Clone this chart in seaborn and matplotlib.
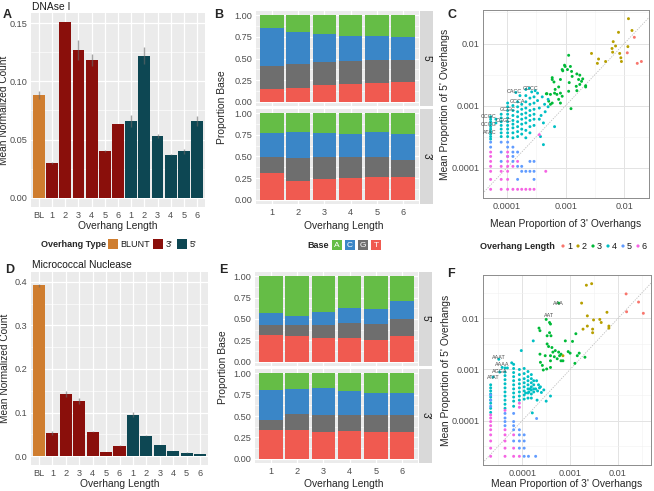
import numpy as np
import pandas as pd
import matplotlib
matplotlib.use("Agg")
import matplotlib.pyplot as plt
import matplotlib.ticker as mticker
from matplotlib.patches import Rectangle, Circle
import seaborn as sns

# ---------------------------------------------------------------- data
BAR_LABELS = ["BL", "1", "2", "3", "4", "5", "6", "1", "2", "3", "4", "5", "6"]
BAR_TYPES = ["BLUNT"] + ["3'"] * 6 + ["5'"] * 6
DNASE_MEAN = [0.088, 0.030, 0.151, 0.127, 0.118, 0.040, 0.063, 0.066, 0.122, 0.053, 0.037, 0.040, 0.066]
DNASE_ERR = [0.0035, 0.0008, 0.0, 0.0086, 0.005, 0.0007, 0.0, 0.0054, 0.0071, 0.0014, 0.0005, 0.0021, 0.0043]
MNASE_MEAN = [0.392, 0.053, 0.143, 0.126, 0.056, 0.009, 0.024, 0.095, 0.047, 0.026, 0.011, 0.008, 0.005]
MNASE_ERR = [0.004, 0.0056, 0.0075, 0.0075, 0.0015, 0.0005, 0.0005, 0.0064, 0.0012, 0.0005, 0.0003, 0.0003, 0.0003]
TYPE_COLORS = {"BLUNT": "#CF7D2F", "3'": "#8A0F0B", "5'": "#0D4753"}

LENGTHS = [1, 2, 3, 4, 5, 6]
BASES = ["A", "C", "G", "T"]
BASE_COLORS = {"A": "#65BD46", "C": "#3A86C7", "G": "#6E6E6E", "T": "#F05A50"}

# base proportions per overhang length (1..6)
DNASE_5P_A = [0.15, 0.19, 0.22, 0.24, 0.245, 0.255]
DNASE_5P_C = [0.44, 0.375, 0.32, 0.29, 0.27, 0.26]
DNASE_5P_G = [0.26, 0.28, 0.27, 0.26, 0.265, 0.26]
DNASE_5P_T = [0.15, 0.155, 0.19, 0.21, 0.22, 0.225]
DNASE_3P_A = [0.225, 0.215, 0.225, 0.24, 0.22, 0.235]
DNASE_3P_C = [0.275, 0.305, 0.275, 0.26, 0.28, 0.30]
DNASE_3P_G = [0.19, 0.26, 0.26, 0.245, 0.235, 0.20]
DNASE_3P_T = [0.31, 0.22, 0.24, 0.255, 0.265, 0.265]
MNASE_5P_A = [0.435, 0.465, 0.42, 0.375, 0.385, 0.29]
MNASE_5P_C = [0.135, 0.105, 0.15, 0.17, 0.175, 0.205]
MNASE_5P_G = [0.12, 0.125, 0.15, 0.175, 0.185, 0.205]
MNASE_5P_T = [0.31, 0.305, 0.28, 0.28, 0.255, 0.30]
MNASE_3P_A = [0.195, 0.185, 0.175, 0.21, 0.225, 0.23]
MNASE_3P_C = [0.355, 0.295, 0.315, 0.275, 0.26, 0.26]
MNASE_3P_G = [0.115, 0.18, 0.195, 0.195, 0.20, 0.20]
MNASE_3P_T = [0.335, 0.34, 0.315, 0.32, 0.315, 0.31]

LEN_COLORS = ["#F8766D", "#B79F00", "#00BA38", "#00BFC4", "#619CFF", "#F564E3"]

# scatter points: (log10 mean proportion 3', log10 mean proportion 5')
C_LEN1 = [(-1.83, -1.90), (-1.95, -2.15), (-1.78, -2.32), (-1.71, -2.29)]
C_LEN2 = [(-1.93, -1.60), (-1.87, -1.79), (-2.10, -1.82), (-2.19, -1.97), (-2.15, -2.04),
          (-2.21, -2.08), (-1.94, -2.05), (-2.20, -2.14), (-2.08, -2.16), (-2.06, -2.23),
          (-2.05, -2.29), (-2.44, -2.25), (-2.46, -2.32), (-2.32, -2.29), (-2.56, -2.16)]
C_LEN3 = [(-2.95, -2.19), (-3.02, -2.35), (-2.92, -2.37), (-2.97, -2.42), (-2.90, -2.45),
          (-3.05, -2.44), (-2.89, -2.53), (-2.81, -2.49), (-2.76, -2.51), (-2.78, -2.58),
          (-2.73, -2.61), (-2.66, -2.68), (-2.76, -2.66), (-2.82, -2.69), (-2.81, -2.76),
          (-2.94, -2.63), (-2.95, -2.77), (-3.09, -2.58), (-3.23, -2.58), (-3.12, -2.70),
          (-3.18, -2.74), (-3.19, -2.80), (-3.15, -2.82), (-3.09, -2.80), (-3.06, -2.85),
          (-3.12, -2.90), (-3.09, -2.96), (-3.26, -2.82), (-3.32, -2.81), (-3.26, -2.98),
          (-3.23, -2.96), (-3.29, -2.93), (-3.06, -2.42), (-3.20, -2.62), (-2.91, -3.05),
          (-2.71, -2.57), (-2.66, -2.70), (-3.01, -2.37), (-3.23, -2.55), (-3.33, -2.81)]
C_LEN4 = [(-4.28, -3.18), (-4.28, -3.22), (-4.28, -3.26), (-4.28, -3.30), (-4.28, -3.34),
          (-4.28, -3.38), (-4.28, -3.42), (-4.28, -3.46), (-4.28, -3.50), (-4.28, -3.54),
          (-4.19, -3.22), (-4.19, -3.28),
          (-4.10, -3.14), (-4.10, -3.20), (-4.10, -3.26), (-4.10, -3.32), (-4.10, -3.38),
          (-4.10, -3.44), (-4.10, -3.50),
          (-3.99, -2.96), (-3.99, -3.02), (-3.99, -3.08), (-3.99, -3.14), (-3.99, -3.20),
          (-3.99, -3.26), (-3.99, -3.32), (-3.99, -3.38), (-3.99, -3.44), (-3.99, -3.50),
          (-3.90, -3.00), (-3.90, -3.08), (-3.90, -3.16), (-3.90, -3.24), (-3.90, -3.30),
          (-3.90, -3.36), (-3.90, -3.44), (-3.90, -3.52),
          (-3.82, -2.94), (-3.82, -3.02), (-3.82, -3.10), (-3.82, -3.18), (-3.82, -3.26),
          (-3.82, -3.34), (-3.82, -3.42), (-3.82, -3.50),
          (-3.75, -2.98), (-3.75, -3.06), (-3.75, -3.14), (-3.75, -3.22), (-3.75, -3.30),
          (-3.75, -3.38), (-3.75, -3.46),
          (-3.68, -2.74), (-3.68, -2.84), (-3.68, -2.94), (-3.68, -3.04), (-3.68, -3.12),
          (-3.68, -3.20), (-3.68, -3.28), (-3.68, -3.40), (-3.68, -3.52),
          (-3.61, -2.88), (-3.61, -2.98), (-3.61, -3.08), (-3.61, -3.16), (-3.61, -3.24),
          (-3.61, -3.34), (-3.61, -3.44),
          (-3.54, -2.86), (-3.54, -2.96), (-3.54, -3.06), (-3.54, -3.14), (-3.54, -3.22),
          (-3.54, -3.32),
          (-3.48, -2.92), (-3.45, -3.04), (-3.40, -2.86), (-3.42, -3.16), (-3.36, -2.98),
          (-3.35, -3.10), (-3.30, -2.90), (-3.30, -3.02), (-3.45, -3.22), (-3.38, -3.28),
          (-3.43, -3.50), (-3.38, -3.63), (-3.19, -3.34), (-3.48, -2.80), (-3.52, -2.76),
          (-3.58, -2.78), (-3.62, -2.72), (-3.85, -2.79), (-3.78, -2.84)]
C_LEN5 = [(-4.28, -3.59), (-4.10, -3.59), (-3.99, -3.59), (-4.28, -3.67), (-3.99, -3.67),
          (-3.90, -3.67), (-4.10, -3.75), (-3.90, -3.75), (-3.82, -3.75), (-3.99, -3.82),
          (-3.90, -3.82), (-3.90, -3.90), (-3.61, -3.90), (-3.54, -3.90), (-3.82, -3.98),
          (-3.75, -3.98), (-3.75, -4.06), (-3.68, -4.06), (-3.61, -4.06), (-3.54, -4.06),
          (-3.82, -4.19), (-3.54, -4.19), (-4.10, -3.90)]
C_LEN6 = [(-4.28, -4.35), (-4.10, -4.35), (-3.99, -4.35), (-3.90, -4.35), (-3.82, -4.35),
          (-3.75, -4.35), (-3.68, -4.35), (-3.61, -4.35), (-3.54, -4.35),
          (-4.28, -4.19), (-4.10, -4.19), (-3.99, -4.19),
          (-4.28, -4.06), (-4.10, -4.06), (-3.99, -4.06), (-3.34, -4.06),
          (-4.28, -3.98), (-4.10, -3.98), (-3.99, -3.98), (-3.90, -3.98),
          (-4.28, -3.90), (-3.99, -3.90), (-3.82, -3.90),
          (-4.28, -3.82), (-3.99, -3.82), (-3.99, -3.75), (-4.28, -3.75), (-3.45, -3.47)]
C_LABELS = [("GCCC", -3.60, -2.72), ("CACC", -3.87, -2.78), ("GCCA", -3.82, -2.93),
            ("GCGC", -3.99, -3.07), ("CCGC", -4.31, -3.17), ("CGGC", -4.05, -3.24),
            ("CCCG", -4.31, -3.31), ("ATAC", -4.29, -3.44)]

F_LEN1 = [(-1.83, -1.52), (-1.57, -1.68), (-1.82, -1.87), (-1.47, -1.90)]
F_LEN2 = [(-2.66, -1.35), (-2.55, -1.32), (-2.76, -1.70), (-2.64, -1.95), (-2.23, -1.88),
          (-2.51, -2.03), (-2.38, -2.02), (-2.35, -2.08), (-2.64, -2.15), (-2.73, -2.21),
          (-2.53, -2.21), (-2.53, -2.28), (-2.19, -2.15), (-2.19, -2.19), (-3.15, -2.73)]
F_LEN3 = [(-3.24, -1.70), (-3.50, -2.02), (-3.43, -2.08), (-3.41, -2.11), (-3.65, -2.19),
          (-3.63, -2.24), (-3.43, -2.28), (-3.48, -2.34), (-3.40, -2.34), (-2.88, -2.30),
          (-2.95, -2.45), (-3.10, -2.44), (-3.48, -2.50), (-3.45, -2.55), (-3.38, -2.57),
          (-3.31, -2.63), (-3.24, -2.66), (-3.36, -2.66), (-3.41, -2.73), (-3.33, -2.75),
          (-3.19, -2.70), (-3.15, -2.83), (-3.19, -2.83), (-3.04, -2.65), (-3.00, -2.68),
          (-2.81, -2.68), (-2.85, -2.73), (-2.69, -2.76), (-2.90, -2.88), (-3.63, -2.70),
          (-3.52, -2.73), (-3.62, -2.86), (-3.58, -2.92), (-3.56, -3.01), (-3.49, -2.99),
          (-3.41, -2.96), (-3.27, -2.79), (-3.22, -2.73), (-3.41, -2.83)]
F_LEN4 = [(-4.66, -3.30), (-4.66, -3.36), (-4.66, -3.42), (-4.66, -3.48), (-4.66, -3.54),
          (-4.66, -3.60), (-4.66, -3.66), (-4.66, -3.76), (-4.66, -3.84),
          (-4.61, -3.15), (-4.49, -2.80), (-4.42, -2.96), (-4.47, -3.05),
          (-4.36, -2.97), (-4.36, -3.05), (-4.36, -3.12), (-4.36, -3.20), (-4.36, -3.28),
          (-4.36, -3.36), (-4.36, -3.44), (-4.36, -3.52), (-4.36, -3.60), (-4.36, -3.68),
          (-4.36, -3.76),
          (-4.18, -2.90), (-4.18, -2.98), (-4.18, -3.06), (-4.18, -3.14), (-4.18, -3.22),
          (-4.18, -3.30), (-4.18, -3.38), (-4.18, -3.46), (-4.18, -3.54), (-4.18, -3.62),
          (-4.18, -3.72),
          (-4.06, -3.00), (-4.06, -3.10), (-4.06, -3.20), (-4.06, -3.28), (-4.06, -3.36),
          (-4.06, -3.44), (-4.06, -3.52), (-4.06, -3.60),
          (-3.96, -2.98), (-3.96, -3.08), (-3.96, -3.18), (-3.96, -3.26), (-3.96, -3.34),
          (-3.96, -3.42), (-3.96, -3.50), (-3.96, -3.58),
          (-3.88, -3.04), (-3.88, -3.14), (-3.88, -3.22), (-3.88, -3.30), (-3.88, -3.38),
          (-3.88, -3.46), (-3.88, -3.56),
          (-3.81, -3.10), (-3.81, -3.18), (-3.81, -3.26), (-3.81, -3.34), (-3.81, -3.40),
          (-3.81, -3.48), (-3.81, -3.56),
          (-3.76, -3.22), (-3.76, -3.30), (-3.76, -3.38), (-3.76, -3.44),
          (-4.02, -2.63), (-3.77, -2.44), (-4.22, -2.87), (-4.31, -2.97), (-3.62, -3.34),
          (-3.41, -3.52), (-3.69, -3.60), (-3.79, -3.85), (-3.70, -3.22), (-3.66, -3.30),
          (-3.60, -3.45), (-3.55, -3.40), (-3.50, -3.62), (-3.72, -3.38), (-3.68, -3.42),
          (-3.64, -3.36), (-3.93, -3.46), (-3.86, -3.44), (-3.84, -3.38)]
F_LEN5 = [(-3.96, -4.70), (-3.87, -4.70), (-3.72, -4.70), (-4.06, -4.54), (-3.96, -4.54),
          (-4.18, -4.40), (-4.06, -4.40), (-3.96, -4.40), (-4.06, -4.28), (-3.96, -4.28),
          (-4.18, -4.18), (-4.06, -4.18), (-4.36, -4.10), (-4.18, -4.10), (-4.36, -4.02),
          (-4.18, -4.02), (-4.36, -3.95), (-4.66, -3.72), (-4.66, -3.60), (-4.66, -3.50),
          (-3.70, -3.96), (-4.36, -3.86), (-4.18, -3.86)]
F_LEN6 = [(-4.66, -4.70), (-4.36, -4.70), (-4.18, -4.70), (-4.06, -4.70), (-4.66, -4.54),
          (-4.36, -4.54), (-4.18, -4.54), (-4.66, -4.40), (-4.36, -4.40), (-4.66, -4.28),
          (-4.36, -4.28), (-4.18, -4.28), (-4.66, -4.18), (-4.36, -4.18), (-4.66, -4.10),
          (-4.66, -4.02), (-4.66, -3.95), (-4.66, -3.89), (-4.06, -3.74), (-4.06, -3.66),
          (-4.36, -3.80)]
F_LABELS = [("AAA", -3.24, -1.70), ("AAT", -3.43, -1.94), ("AAAT", -4.49, -2.77),
            ("AAAA", -4.42, -2.90), ("AGGA", -4.47, -3.03), ("ATAT", -4.61, -3.16)]

# ---------------------------------------------------------------- style
sns.set_style("darkgrid")
plt.rcParams["font.family"] = ["Liberation Sans", "DejaVu Sans"]

W, H = 654, 491
fig = plt.figure(figsize=(W / 100, H / 100), dpi=100)


def px_rect(x0, y0, x1, y1):
    return [x0 / W, 1 - y1 / H, (x1 - x0) / W, (y1 - y0) / H]


TICK_KW = dict(length=1.8, width=0.6, color="#333333", labelsize=6.6,
               labelcolor="#4D4D4D", pad=0.8)


def style_gray(ax, xgrid=True):
    ax.set_facecolor("#EBEBEB")
    for sp in ax.spines.values():
        sp.set_visible(False)
    ax.set_axisbelow(True)
    ax.grid(False)
    ax.yaxis.grid(True, which="major", color="white", linewidth=0.9)
    ax.yaxis.grid(True, which="minor", color="white", linewidth=0.45)
    if xgrid:
        ax.xaxis.grid(True, which="major", color="white", linewidth=0.9)
    ax.tick_params(axis="both", which="major", **TICK_KW)
    ax.tick_params(which="minor", length=0)
    ax.set_xlabel("")
    ax.set_ylabel("")


def draw_bars(ax, means, errs, ylim, yticks, yticklabels, yminor):
    df = pd.DataFrame({"key": [f"{t}|{l}" for t, l in zip(BAR_TYPES, BAR_LABELS)],
                       "mean": means, "type": BAR_TYPES})
    sns.barplot(data=df, x="key", y="mean", hue="type", order=list(df["key"]),
                hue_order=["BLUNT", "3'", "5'"], palette=TYPE_COLORS, dodge=False,
                width=0.9, errorbar=None, legend=False, saturation=1, linewidth=0, ax=ax)
    pos = np.arange(len(means))
    ax.errorbar(pos, means, yerr=errs, fmt="none", ecolor="#6A6A6A", alpha=0.6,
                elinewidth=1.0, capsize=0, zorder=3)
    ax.set_xlim(-0.6, len(means) - 0.4)
    ax.set_ylim(*ylim)
    ax.set_xticks(pos)
    ax.set_xticklabels(BAR_LABELS)
    ax.set_yticks(yticks)
    ax.set_yticklabels(yticklabels)
    ax.yaxis.set_minor_locator(mticker.FixedLocator(yminor))
    ax.xaxis.set_minor_locator(mticker.NullLocator())
    style_gray(ax)


def draw_props(ax, a, c, g, t, bottom_axis):
    rows = []
    for base, vals in zip(BASES, [a, c, g, t]):
        for L, v in zip(LENGTHS, vals):
            rows.append({"length": L, "base": base, "prop": v})
    df = pd.DataFrame(rows)
    sns.histplot(data=df, x="length", weights="prop", hue="base", hue_order=BASES,
                 palette=BASE_COLORS, multiple="stack", discrete=True, shrink=0.9,
                 alpha=1, linewidth=0, legend=False, ax=ax)
    ax.set_xlim(0.4, 6.6)
    ax.set_ylim(-0.05, 1.05)
    ax.set_xticks(LENGTHS)
    ax.set_xticklabels([str(L) for L in LENGTHS])
    ax.set_yticks([0, 0.25, 0.5, 0.75, 1.0])
    ax.set_yticklabels(["0.00", "0.25", "0.50", "0.75", "1.00"])
    ax.yaxis.set_minor_locator(mticker.FixedLocator([0.125, 0.375, 0.625, 0.875]))
    ax.xaxis.set_minor_locator(mticker.NullLocator())
    style_gray(ax)
    if not bottom_axis:
        ax.tick_params(axis="x", length=0, labelbottom=False)


def draw_scatter(ax, groups, xlim, ylim, labels):
    rows = []
    for L, pts in zip(LENGTHS, groups):
        for x, y in pts:
            rows.append({"p3": 10 ** x, "p5": 10 ** y, "len": str(L)})
    df = pd.DataFrame(rows)
    pal = {str(L): c for L, c in zip(LENGTHS, LEN_COLORS)}
    ax.set_xscale("log")
    ax.set_yscale("log")
    ax.plot([1e-6, 1], [1e-6, 1], color="#BDBDBD", lw=0.6, ls=(0, (1.5, 1.5)), zorder=2)
    sns.scatterplot(data=df, x="p3", y="p5", hue="len", hue_order=list(pal), palette=pal,
                    s=4.5, linewidth=0, legend=False, ax=ax, zorder=3)
    for txt, x, y in labels:
        ax.text(10 ** x, 10 ** y, txt, fontsize=3.9, color="#4D4D4D", ha="center",
                va="center", zorder=4, clip_on=False)
    ax.set_xlim(10 ** xlim[0], 10 ** xlim[1])
    ax.set_ylim(10 ** ylim[0], 10 ** ylim[1])
    majors = [1e-4, 1e-3, 1e-2]
    minors = [10 ** -4.5, 10 ** -3.5, 10 ** -2.5, 10 ** -1.5]
    for axis in (ax.xaxis, ax.yaxis):
        axis.set_major_locator(mticker.FixedLocator(majors))
        axis.set_major_formatter(mticker.FixedFormatter(["0.0001", "0.001", "0.01"]))
        axis.set_minor_locator(mticker.FixedLocator(minors))
        axis.set_minor_formatter(mticker.NullFormatter())
    ax.set_facecolor("white")
    for sp in ax.spines.values():
        sp.set_visible(True)
        sp.set_color("#8C8C8C")
        sp.set_linewidth(0.7)
    ax.set_axisbelow(True)
    ax.grid(True, which="major", color="#E3E3E3", linewidth=0.7)
    ax.grid(True, which="minor", color="#F1F1F1", linewidth=0.4)
    ax.tick_params(axis="both", which="major", **TICK_KW)
    ax.tick_params(which="minor", length=0)
    ax.set_xlabel("")
    ax.set_ylabel("")


# ---------------------------------------------------------------- panels
axA = fig.add_axes(px_rect(31, 13, 205, 207))
draw_bars(axA, DNASE_MEAN, DNASE_ERR, (-0.0079, 0.1586), [0, 0.05, 0.10, 0.15],
          ["0.00", "0.05", "0.10", "0.15"], [0.025, 0.075, 0.125])

axD = fig.add_axes(px_rect(31, 272, 208, 465))
draw_bars(axD, MNASE_MEAN, MNASE_ERR, (-0.0205, 0.4227), [0, 0.1, 0.2, 0.3, 0.4],
          ["0.0", "0.1", "0.2", "0.3", "0.4"], [0.05, 0.15, 0.25, 0.35])

axB1 = fig.add_axes(px_rect(256, 11, 419, 106))
draw_props(axB1, DNASE_5P_A, DNASE_5P_C, DNASE_5P_G, DNASE_5P_T, False)
axB2 = fig.add_axes(px_rect(256, 109, 419, 204))
draw_props(axB2, DNASE_3P_A, DNASE_3P_C, DNASE_3P_G, DNASE_3P_T, True)

axE1 = fig.add_axes(px_rect(255, 272, 418, 366))
draw_props(axE1, MNASE_5P_A, MNASE_5P_C, MNASE_5P_G, MNASE_5P_T, False)
axE2 = fig.add_axes(px_rect(255, 369, 418, 463))
draw_props(axE2, MNASE_3P_A, MNASE_3P_C, MNASE_3P_G, MNASE_3P_T, True)

axC = fig.add_axes(px_rect(483, 10, 649, 198))
draw_scatter(axC, [C_LEN1, C_LEN2, C_LEN3, C_LEN4, C_LEN5, C_LEN6],
             (-4.41, -1.58), (-4.49, -1.46), C_LABELS)

axF = fig.add_axes(px_rect(483, 275, 651, 465))
draw_scatter(axF, [F_LEN1, F_LEN2, F_LEN3, F_LEN4, F_LEN5, F_LEN6],
             (-4.82, -1.31), (-4.87, -1.15), F_LABELS)

# ---------------------------------------------------------------- overlay text
ov = fig.add_axes([0, 0, 1, 1], zorder=10)
ov.set_xlim(0, W)
ov.set_ylim(H, 0)
ov.axis("off")
ov.patch.set_alpha(0)

TITLE_FS = 7.4
for x, y, s in [(3, 18, "A"), (214, 18, "B"), (447, 18, "C"),
                (5, 273, "D"), (219, 273, "E"), (447, 277, "F")]:
    ov.text(x, y, s, fontsize=9, fontweight="bold", va="baseline", ha="left")

ov.text(32, 9.5, "DNAse I", fontsize=TITLE_FS, va="baseline", ha="left", color="#1A1A1A")
ov.text(32, 268.3, "Micrococcal Nuclease", fontsize=TITLE_FS, va="baseline", ha="left",
        color="#1A1A1A")

# axis titles
ov.text(4.3, 110, "Mean Normalized Count", rotation=90, fontsize=7.3, ha="center", va="center")
ov.text(118, 226, "Overhang Length", fontsize=TITLE_FS, ha="center", va="center")
ov.text(5, 368, "Mean Normalized Count", rotation=90, fontsize=7.3, ha="center", va="center")
ov.text(120, 484, "Overhang Length", fontsize=TITLE_FS, ha="center", va="center")
ov.text(222, 107, "Proportion Base", rotation=90, fontsize=TITLE_FS, ha="center", va="center")
ov.text(344, 226, "Overhang Length", fontsize=TITLE_FS, ha="center", va="center")
ov.text(223.5, 367, "Proportion Base", rotation=90, fontsize=TITLE_FS, ha="center", va="center")
ov.text(344, 484, "Overhang Length", fontsize=TITLE_FS, ha="center", va="center")
ov.text(445.5, 104, "Mean Proportion of 5' Overhangs", rotation=90, fontsize=TITLE_FS,
        ha="center", va="center")
ov.text(566, 224, "Mean Proportion of 3' Overhangs", fontsize=TITLE_FS, ha="center", va="center")
ov.text(446, 370, "Mean Proportion of 5' Overhangs", rotation=90, fontsize=TITLE_FS,
        ha="center", va="center")
ov.text(567, 484, "Mean Proportion of 3' Overhangs", fontsize=TITLE_FS, ha="center", va="center")

# facet strips
for (y0, y1, lab, x0) in [(11, 106, "5'", 420), (109, 204, "3'", 420),
                          (272, 366, "5'", 419), (369, 463, "3'", 419)]:
    ov.add_patch(Rectangle((x0, y0), 13, y1 - y0, facecolor="#D9D9D9", edgecolor="none"))
    ov.text(x0 + 6.5, (y0 + y1) / 2, lab, rotation=-90, fontsize=7.2, ha="center",
            va="center", color="#1A1A1A")

# legend: overhang type
LEG_FS = 6.5
ov.text(41, 244, "Overhang Type", fontsize=LEG_FS, fontweight="bold", va="center", ha="left")
for kx, tx, lab in [(108, 120, "BLUNT"), (153, 166, "3'"), (177, 190, "5'")]:
    ov.add_patch(Rectangle((kx, 239), 10, 10, facecolor=TYPE_COLORS[lab], edgecolor="none"))
    ov.text(tx, 244, lab, fontsize=LEG_FS, va="center", ha="left", color="#1A1A1A")

# legend: base
ov.text(307, 245, "Base", fontsize=LEG_FS, fontweight="bold", va="center", ha="left")
for i, b in enumerate(BASES):
    kx = 332 + 13 * i
    ov.add_patch(Rectangle((kx, 240), 10, 10, facecolor=BASE_COLORS[b], edgecolor="none"))
    ov.text(kx + 5, 245.3, b, fontsize=6, va="center", ha="center", color="white")

# legend: overhang length
ov.text(480, 246, "Overhang Length", fontsize=LEG_FS, fontweight="bold", va="center", ha="left")
for i, (L, col) in enumerate(zip(LENGTHS, LEN_COLORS)):
    cx = 563 + 15 * i
    ov.add_patch(Circle((cx, 246), 1.6, facecolor=col, edgecolor="none"))
    ov.text(cx + 4, 246, str(L), fontsize=LEG_FS, va="center", ha="left", color="#1A1A1A")

fig.savefig("out.png", dpi=100)
